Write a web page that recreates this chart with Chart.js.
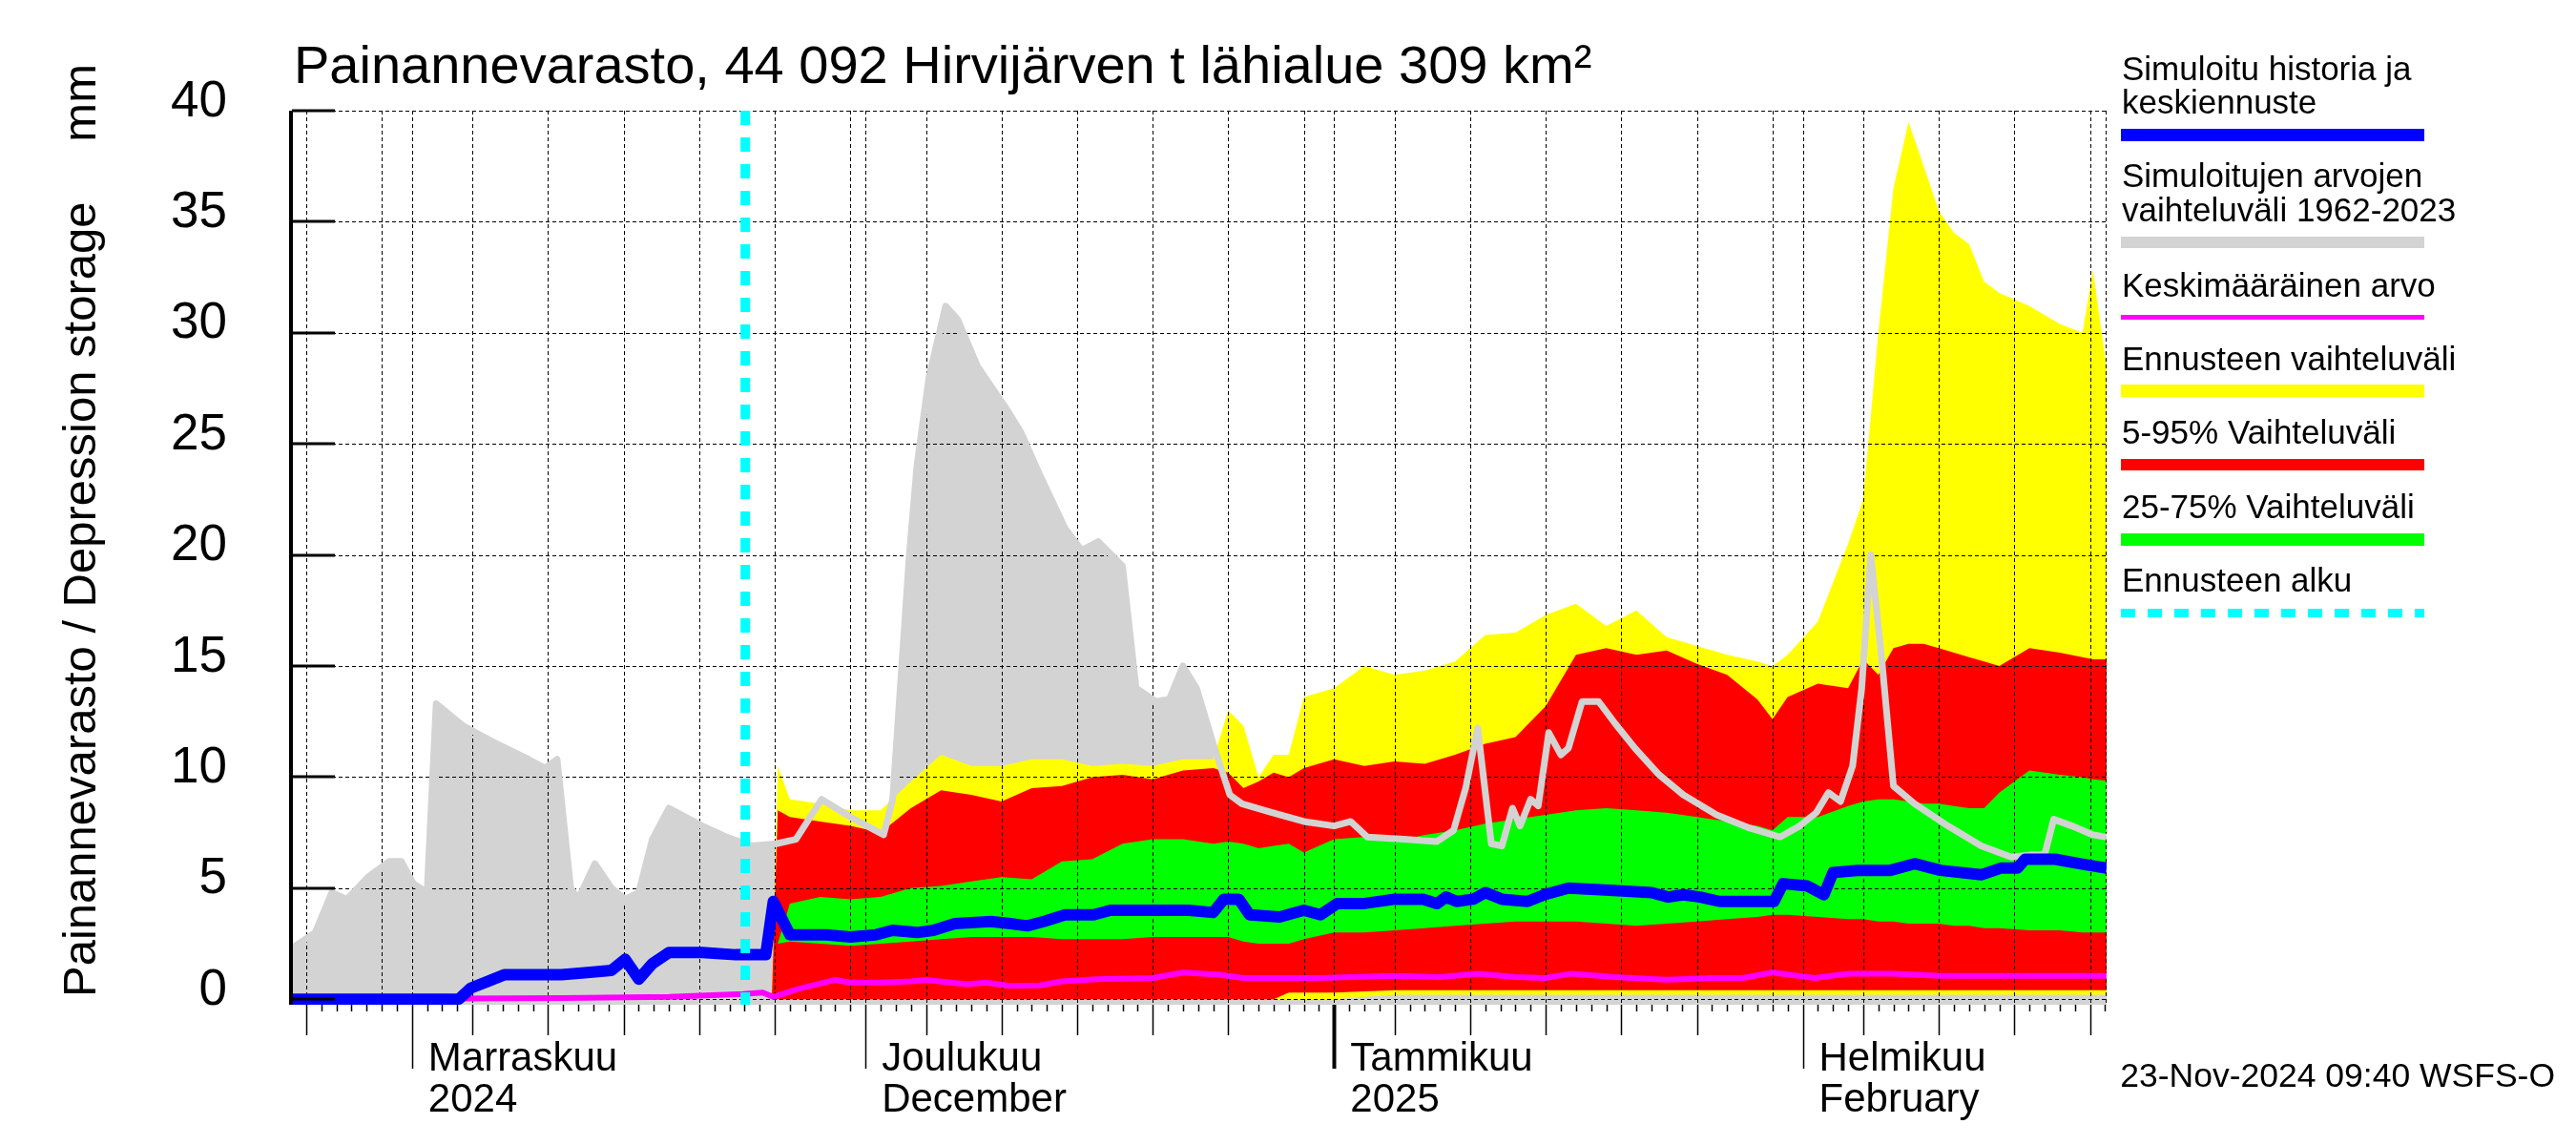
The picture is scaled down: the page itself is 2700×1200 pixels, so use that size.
<!DOCTYPE html>
<html>
<head>
<meta charset="utf-8">
<title>Painannevarasto</title>
<script src="https://cdn.jsdelivr.net/npm/chart.js@4.4.1/dist/chart.umd.min.js"></script>
<style>
  html, body { margin: 0; padding: 0; background: #fff; }
  #wrap { width: 2700px; height: 1200px; }
</style>
</head>
<body>
<div id="wrap"><canvas id="chart" width="2700" height="1200"></canvas></div>
<script>
// x values are days counted from 1 Nov 2024 (Nov 1 = 0)
const xMin = -7.94, xMax = 112.1;
const yTicks = [0, 5, 10, 15, 20, 25, 30, 35, 40];
const monthStartDays = [0, 30, 61, 92];
const monthNames = ['Marraskuu', 'Joulukuu', 'Tammikuu', 'Helmikuu'];
const monthSubs = ['2024', 'December', '2025', 'February'];
const forecastStartDay = 22.05;

// historical range 1962-2023 (upper edge)
const histDays = [-7.94, -6.4, -5.3, -4.3, -2.9, -1.5, -0.7, 0.1, 1.0, 1.6, 3.4, 5.6, 7.7, 8.8, 9.6, 10.5, 11.0, 12.1, 13.2, 14.1,
  15.0, 15.9, 17.0, 18.1, 19.2, 20.8, 22.5, 24.1, 25.4, 27.1, 29.0, 31.2, 31.8, 32.1, 32.9, 33.4, 34.2, 35.3, 36.1, 37.4,
  38.3, 39.4, 40.3, 41.6, 43.2, 44.3, 45.4, 47.0, 47.9, 49.2, 50.1, 51.0, 51.9, 53.0, 54.1, 54.9, 56.9, 59.0, 61.0, 62.1,
  63.2, 65.6, 67.8, 68.9, 69.7, 70.5, 71.4, 72.1, 72.8, 73.3, 74.0, 74.5, 75.2, 76.0, 76.5, 77.4, 78.5, 79.6, 80.9, 82.5,
  84.1, 86.3, 88.5, 90.5, 91.8, 92.9, 93.7, 94.5, 95.3, 95.9, 96.5, 97.2, 98.0, 99.4, 101.6, 103.8, 105.8, 107.1, 108.0, 108.6,
  109.8, 111.2, 112.1];
const histMax = [2.3, 3.0, 4.8, 4.5, 5.5, 6.2, 6.2, 5.2, 4.8, 13.3, 12.3, 11.5, 10.8, 10.4, 10.8, 5.0, 4.5, 6.1, 5.0, 4.5,
  4.8, 7.2, 8.6, 8.2, 7.8, 7.3, 6.9, 7.0, 7.2, 9.0, 8.2, 7.4, 9.0, 12.0, 20.0, 24.0, 28.0, 31.2, 30.6, 28.5,
  27.6, 26.5, 25.5, 23.5, 21.2, 20.2, 20.6, 19.5, 14.0, 13.4, 13.5, 15.0, 14.0, 11.5, 9.2, 8.8, 8.4, 8.0, 7.8, 8.0,
  7.3, 7.2, 7.1, 7.6, 9.5, 12.2, 7.0, 6.9, 8.6, 7.8, 9.0, 8.7, 12.0, 11.0, 11.3, 13.4, 13.4, 12.4, 11.3, 10.1,
  9.2, 8.3, 7.7, 7.3, 7.8, 8.4, 9.3, 8.9, 10.5, 14.0, 20.0, 15.5, 9.6, 8.8, 7.8, 6.9, 6.4, 6.5, 6.5, 8.1,
  7.8, 7.4, 7.3];

// simulated history and median forecast
const simDays = [-7.94, 3.1, 3.9, 5.0, 6.1, 9.9, 11.6, 13.2, 14.1, 15.0, 15.9, 17.0, 19.2, 21.4, 23.4, 23.9, 25.0, 27.4, 29.0, 30.7,
  31.8, 33.4, 34.5, 35.9, 38.3, 39.6, 40.7, 41.8, 43.2, 45.1, 46.2, 49.2, 51.4, 53.0, 53.7, 54.7, 55.4, 57.4, 59.0, 60.1,
  61.2, 62.9, 65.0, 66.9, 67.8, 68.4, 69.1, 70.2, 71.0, 72.1, 73.8, 74.9, 76.5, 79.2, 82.0, 83.1, 84.1, 85.2, 86.5, 90.1,
  90.7, 92.3, 93.4, 94.0, 95.6, 97.8, 99.4, 101.1, 103.8, 105.1, 106.2, 106.7, 108.7, 110.3, 112.1];
const simValues = [0, 0, 0.5, 0.8, 1.1, 1.1, 1.2, 1.3, 1.8, 0.9, 1.6, 2.1, 2.1, 2.0, 2.0, 4.4, 2.9, 2.9, 2.8, 2.9,
  3.1, 3.0, 3.1, 3.4, 3.5, 3.4, 3.3, 3.5, 3.8, 3.8, 4.0, 4.0, 4.0, 3.9, 4.5, 4.5, 3.8, 3.7, 4.0, 3.8,
  4.3, 4.3, 4.5, 4.5, 4.3, 4.6, 4.4, 4.5, 4.8, 4.5, 4.4, 4.7, 5.0, 4.9, 4.8, 4.6, 4.7, 4.6, 4.4, 4.4,
  5.2, 5.1, 4.7, 5.7, 5.8, 5.8, 6.1, 5.8, 5.6, 5.9, 5.9, 6.3, 6.3, 6.1, 5.9];

// long-term mean
const meanDays = [-7.94, 10, 17, 21.9, 23.2, 23.9, 25.5, 28, 29, 31, 33, 34, 36.7, 38, 39.5, 41.5, 43, 45.3, 49, 51,
  53.4, 55, 60, 65, 68, 70.5, 73, 75, 76.7, 79.5, 83, 86, 88, 90, 92.8, 95, 98, 101.2, 105, 108.7, 112.1];
const meanValues = [0, 0.05, 0.1, 0.23, 0.3, 0.1, 0.45, 0.87, 0.75, 0.75, 0.8, 0.87, 0.67, 0.75, 0.6, 0.62, 0.8, 0.9, 0.95, 1.2,
  1.1, 0.95, 0.95, 1.05, 1.0, 1.15, 1.0, 0.95, 1.15, 1.0, 0.88, 0.95, 0.95, 1.2, 0.95, 1.15, 1.15, 1.05, 1.05, 1.05, 1.05];

// forecast distribution
const fcDays = [23.8, 24.2, 25, 27, 29, 31, 33, 35, 37, 39, 41, 43, 45, 47, 49, 51, 53, 54, 55, 56,
  57, 58, 59, 61, 63, 65, 67, 69, 71, 73, 75, 77, 79, 81, 83, 85, 87, 89, 90, 91,
  93, 95, 96, 97, 98, 99, 100, 101, 102, 103, 104, 105, 107, 109, 110.5, 111.2, 112.5];
const fcMax = [0, 10.5, 9.0, 8.8, 8.5, 8.5, 9.8, 11.0, 10.5, 10.5, 10.8, 10.8, 10.5, 10.6, 10.5, 10.8, 10.8, 13.0, 12.3, 10.0,
  11.0, 11.0, 13.6, 14.0, 15.0, 14.6, 14.8, 15.2, 16.4, 16.5, 17.3, 17.8, 16.8, 17.5, 16.3, 15.9, 15.5, 15.2, 15.0, 15.5,
  17.0, 20.5, 22.5, 30.0, 36.5, 39.5, 37.5, 35.5, 34.5, 34.0, 32.3, 31.8, 31.2, 30.4, 30.0, 32.8, 26.5];
const fcMin = [0, 0, 0, 0, 0, 0, 0, 0, 0, 0, 0, 0, 0, 0, 0, 0, 0, 0, 0, 0,
  0, 0, 0, 0, 0.1, 0.2, 0.2, 0.2, 0.2, 0.2, 0.2, 0.2, 0.2, 0.2, 0.2, 0.2, 0.2, 0.2, 0.2, 0.2,
  0.2, 0.2, 0.2, 0.2, 0.2, 0.2, 0.2, 0.2, 0.2, 0.2, 0.2, 0.2, 0.2, 0.2, 0.2, 0.2, 0.2];
const fc95 = [0, 8.5, 8.2, 8.0, 7.8, 7.5, 8.6, 9.4, 9.2, 8.9, 9.5, 9.6, 10.0, 10.1, 9.9, 10.3, 10.4, 10.2, 9.5, 9.8,
  10.2, 10.0, 10.4, 10.8, 10.5, 10.7, 10.6, 11.0, 11.5, 11.8, 13.2, 15.5, 15.8, 15.5, 15.7, 15.1, 14.6, 13.5, 12.6, 13.6,
  14.2, 14.0, 15.3, 14.6, 15.8, 16.0, 16.0, 15.8, 15.6, 15.4, 15.2, 15.0, 15.8, 15.6, 15.4, 15.3, 15.3];
const fc5 = [0, 0, 0, 0, 0, 0, 0, 0, 0, 0, 0, 0, 0, 0, 0, 0, 0, 0, 0, 0,
  0, 0.3, 0.3, 0.3, 0.35, 0.4, 0.4, 0.4, 0.4, 0.4, 0.4, 0.4, 0.4, 0.4, 0.4, 0.4, 0.4, 0.4, 0.4, 0.4,
  0.4, 0.4, 0.4, 0.4, 0.4, 0.4, 0.4, 0.4, 0.4, 0.4, 0.4, 0.4, 0.4, 0.4, 0.4, 0.4, 0.4];
const fc75 = [0, 2.5, 4.3, 4.6, 4.5, 4.6, 5.0, 5.1, 5.3, 5.5, 5.4, 6.2, 6.3, 7.0, 7.2, 7.2, 7.0, 7.1, 7.0, 6.8,
  6.9, 7.0, 6.6, 7.2, 7.3, 7.1, 7.4, 7.6, 7.9, 8.1, 8.3, 8.5, 8.6, 8.5, 8.4, 8.2, 8.0, 7.8, 7.6, 8.2,
  8.2, 8.7, 8.9, 9.0, 9.0, 8.9, 8.8, 8.8, 8.7, 8.6, 8.6, 9.3, 10.3, 10.1, 10.0, 9.9, 9.8];
const fc25 = [0, 2.5, 2.6, 2.5, 2.4, 2.5, 2.6, 2.7, 2.8, 2.8, 2.8, 2.7, 2.7, 2.7, 2.8, 2.8, 2.8, 2.8, 2.6, 2.5,
  2.5, 2.5, 2.7, 3.0, 3.0, 3.1, 3.2, 3.3, 3.4, 3.5, 3.5, 3.5, 3.4, 3.3, 3.4, 3.5, 3.6, 3.7, 3.8, 3.8,
  3.7, 3.6, 3.6, 3.5, 3.5, 3.4, 3.4, 3.4, 3.3, 3.3, 3.2, 3.2, 3.1, 3.1, 3.0, 3.0, 3.0];

const legendItems = [
  ['Simuloitu historia ja', 'keskiennuste'],
  ['Simuloitujen arvojen', 'vaihteluväli 1962-2023'],
  ['Keskimääräinen arvo'],
  ['Ennusteen vaihteluväli'],
  ['5-95% Vaihteluväli'],
  ['25-75% Vaihteluväli'],
  ['Ennusteen alku']
];
const legendColors = ['#0000ff', '#d3d3d3', '#ff00ff', '#ffff00', '#ff0000', '#00ff00', '#00ffff'];

const FONT = '"Liberation Sans", Arial, Helvetica, sans-serif';

const text = (ctx, str, x, y, size, align) => {
  ctx.save();
  ctx.textAlign = align || 'left';
  ctx.textBaseline = 'alphabetic';
  ctx.fillStyle = '#000';
  ctx.font = size + 'px ' + FONT;
  ctx.fillText(str, x, y);
  ctx.restore();
};

const dayOfMonth = (d) => new Date(2024, 10, 1 + d).getDate();
const pts = (xs, ys) => xs.map((x, i) => ({ x: x, y: ys[i] }));

const drawGrid = (chart) => {
  const { ctx, chartArea: a, scales: { x, y } } = chart;
  ctx.save();
  ctx.strokeStyle = '#000';
  ctx.lineWidth = 1;
  ctx.setLineDash([4, 3]);
  ctx.beginPath();
  yTicks.forEach(v => {
    const py = Math.round(y.getPixelForValue(v)) + 0.5;
    ctx.moveTo(a.left, py);
    ctx.lineTo(a.right, py);
  });
  for (let d = Math.ceil(xMin); d <= Math.floor(xMax); d++) {
    const dom = dayOfMonth(d);
    if (dom === 1 || dom % 5 === 0) {
      const px = Math.round(x.getPixelForValue(d)) + 0.5;
      ctx.moveTo(px, a.top);
      ctx.lineTo(px, a.bottom);
    }
  }
  const pr = Math.round(a.right) - 0.5;
  ctx.moveTo(pr, a.top);
  ctx.lineTo(pr, a.bottom);
  ctx.stroke();
  ctx.restore();
};

const drawForecastStart = (chart) => {
  const { ctx, chartArea: a, scales: { x } } = chart;
  const px = x.getPixelForValue(forecastStartDay);
  ctx.save();
  ctx.strokeStyle = '#00ffff';
  ctx.lineWidth = 10;
  ctx.setLineDash([15, 13]);
  ctx.beginPath();
  ctx.moveTo(px, a.top);
  ctx.lineTo(px, a.bottom);
  ctx.stroke();
  ctx.restore();
};

const drawFrame = (chart) => {
  const { ctx, chartArea: a, scales: { x, y } } = chart;
  ctx.save();
  ctx.strokeStyle = '#000';
  ctx.lineWidth = 4;
  ctx.beginPath();
  ctx.moveTo(a.left - 1, a.top);
  ctx.lineTo(a.left - 1, a.bottom);
  ctx.stroke();
  ctx.lineWidth = 3;
  ctx.beginPath();
  yTicks.forEach(v => {
    const py = Math.round(y.getPixelForValue(v));
    ctx.moveTo(a.left, py);
    ctx.lineTo(a.left + 45, py);
  });
  ctx.stroke();
  for (let d = Math.ceil(xMin); d <= Math.floor(xMax); d++) {
    const date = new Date(2024, 10, 1 + d);
    const dom = date.getDate();
    let len = 7, w = 1.5;
    if (dom === 1) { len = 67; if (date.getMonth() === 0) w = 4; }
    else if (dom % 5 === 0 && dom < 30) len = 32;
    const px = Math.round(x.getPixelForValue(d)) + 0.5;
    ctx.lineWidth = w;
    ctx.beginPath();
    ctx.moveTo(px, a.bottom);
    ctx.lineTo(px, a.bottom + len);
    ctx.stroke();
  }
  ctx.restore();
};

const drawTexts = (chart) => {
  const { ctx, scales: { x } } = chart;
  text(ctx, 'Painannevarasto, 44 092 Hirvijärven t lähialue 309 km²', 308, 87, 56);
  ctx.save();
  ctx.translate(100, 1045);
  ctx.rotate(-Math.PI / 2);
  text(ctx, 'Painannevarasto / Depression storage', 0, 0, 49);
  text(ctx, 'mm', 978, 0, 49, 'right');
  ctx.restore();
  monthStartDays.forEach((d, i) => {
    const px = x.getPixelForValue(d) + 17;
    text(ctx, monthNames[i], px, 1122, 42);
    text(ctx, monthSubs[i], px, 1165, 42);
  });
  text(ctx, '23-Nov-2024 09:40 WSFS-O', 2678, 1139, 35.5, 'right');
};

const drawLegend = (chart) => {
  const ctx = chart.ctx;
  const baselines = [83.5, 196, 311, 388, 465, 543, 620];
  const bars = [[135, 13], [248, 12], [330, 5], [403, 13], [481, 12], [559, 13], [638, 9]];
  ctx.save();
  ctx.font = '35px ' + FONT;
  ctx.textBaseline = 'alphabetic';
  legendItems.forEach((lines, i) => {
    ctx.fillStyle = '#000';
    lines.forEach((t, j) => ctx.fillText(t, 2224, baselines[i] + j * 35.5));
    ctx.fillStyle = legendColors[i];
    if (i === 6) {
      for (let px = 2223; px < 2541; px += 28) ctx.fillRect(px, bars[i][0], Math.min(15, 2541 - px), bars[i][1]);
    } else {
      ctx.fillRect(2223, bars[i][0], 318, bars[i][1]);
    }
  });
  ctx.restore();
};

const decor = {
  id: 'decor',
  beforeDatasetDraw(chart, args) {
    if (args.index === 7) drawGrid(chart);
  },
  afterDatasetsDraw(chart) {
    drawForecastStart(chart);
  },
  afterDraw(chart) {
    drawFrame(chart);
    drawTexts(chart);
    drawLegend(chart);
  }
};

const band = (data, color, fill, order) => ({
  data: data, backgroundColor: color, borderColor: 'rgba(0,0,0,0)', borderWidth: 0,
  pointRadius: 0, fill: fill, order: order, tension: 0
});
const line = (data, color, width, order) => ({
  data: data, borderColor: color, borderWidth: width, backgroundColor: color,
  pointRadius: 0, fill: false, order: order, tension: 0, borderJoinStyle: 'round', borderCapStyle: 'butt'
});

new Chart(document.getElementById('chart').getContext('2d'), {
  type: 'line',
  data: {
    datasets: [
      band(pts(histDays, histMax), '#d3d3d3', 'start', 10),
      band(pts(fcDays, fcMax), '#ffff00', 2, 9),
      band(pts(fcDays, fcMin), 'rgba(0,0,0,0)', false, 9),
      band(pts(fcDays, fc95), '#ff0000', 4, 8),
      band(pts(fcDays, fc5), 'rgba(0,0,0,0)', false, 8),
      band(pts(fcDays, fc75), '#00ff00', 6, 7),
      band(pts(fcDays, fc25), 'rgba(0,0,0,0)', false, 7),
      line(pts(histDays, histMax), '#d3d3d3', 7, 5),
      line(pts(meanDays, meanValues), '#ff00ff', 6, 4),
      line(pts(simDays, simValues), '#0000ff', 12, 3)
    ]
  },
  options: {
    responsive: false,
    animation: false,
    events: [],
    layout: { padding: { top: 116, right: 492, bottom: 147, left: 0 } },
    plugins: { legend: { display: false }, tooltip: { enabled: false }, title: { display: false } },
    scales: {
      x: { type: 'linear', min: xMin, max: xMax, display: false },
      y: {
        type: 'linear', min: -0.25, max: 40,
        afterFit: (s) => { s.width = 306; },
        afterBuildTicks: (s) => { s.ticks = yTicks.map(v => ({ value: v })); },
        grid: { display: false, drawTicks: false },
        border: { display: false },
        ticks: {
          color: '#000', padding: 68, labelOffset: -9,
          font: { family: FONT, size: 53 }
        }
      }
    }
  },
  plugins: [decor]
});
</script>
</body>
</html>
